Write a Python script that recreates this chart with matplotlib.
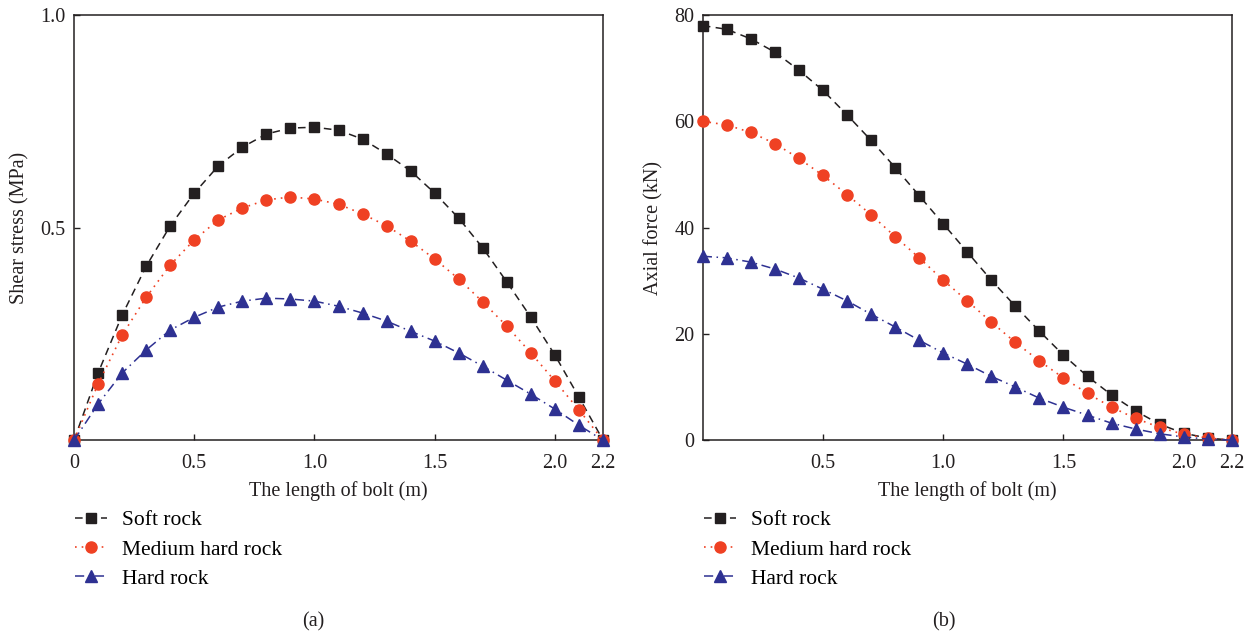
import matplotlib
matplotlib.use("Agg")
import matplotlib.pyplot as plt
import numpy as np

plt.rcParams['font.family'] = ['Liberation Serif', 'DejaVu Serif']

x = [round(0.1 * i, 1) for i in range(23)]

shear_soft = [0, 0.158, 0.294, 0.409, 0.504, 0.581, 0.645, 0.689, 0.720, 0.734, 0.736, 0.729,
              0.708, 0.673, 0.633, 0.581, 0.522, 0.452, 0.372, 0.289, 0.200, 0.101, 0]
shear_medium = [0, 0.132, 0.247, 0.336, 0.412, 0.471, 0.518, 0.546, 0.565, 0.572, 0.567, 0.555,
                0.532, 0.504, 0.468, 0.426, 0.379, 0.325, 0.268, 0.205, 0.139, 0.071, 0]
shear_hard = [0, 0.085, 0.158, 0.212, 0.259, 0.289, 0.313, 0.327, 0.334, 0.332, 0.327, 0.315,
              0.299, 0.280, 0.256, 0.233, 0.205, 0.174, 0.141, 0.108, 0.073, 0.035, 0]

axial_soft = [78.0, 77.3, 75.5, 73.0, 69.6, 65.8, 61.2, 56.4, 51.3, 46.0, 40.7, 35.4,
              30.1, 25.2, 20.5, 16.0, 12.0, 8.5, 5.5, 3.0, 1.3, 0.4, 0]
axial_medium = [60.0, 59.3, 57.9, 55.8, 53.0, 49.8, 46.2, 42.4, 38.3, 34.3, 30.1, 26.2,
                22.2, 18.4, 14.9, 11.7, 8.8, 6.2, 4.1, 2.4, 1.1, 0.4, 0]
axial_hard = [34.6, 34.3, 33.5, 32.2, 30.5, 28.4, 26.2, 23.7, 21.3, 18.8, 16.4, 14.3,
              12.0, 10.0, 7.9, 6.2, 4.7, 3.2, 2.1, 1.2, 0.6, 0.2, 0]

labels = ["Soft rock", "Medium hard rock", "Hard rock"]
left_xticks = [0, 0.5, 1.0, 1.5, 2.0, 2.2]
left_xticklabels = ["0", "0.5", "1.0", "1.5", "2.0", "2.2"]
left_yticks = [0.5, 1.0]
left_yticklabels = ["0.5", "1.0"]
right_xticks = [0.5, 1.0, 1.5, 2.0, 2.2]
right_xticklabels = ["0.5", "1.0", "1.5", "2.0", "2.2"]
right_yticks = [0, 20, 40, 60, 80]
right_yticklabels = ["0", "20", "40", "60", "80"]

c_black = "#231f20"
c_red = "#ef4123"
c_blue = "#2e3192"

styles = [
    dict(color=c_black, linestyle=(0, (5, 3.5)), marker='s', markersize=7, lw=1.1),
    dict(color=c_red, linestyle=(0, (1, 3)), marker='o', markersize=8, lw=1.2),
    dict(color=c_blue, linestyle=(0, (6, 3, 1, 3)), marker='^', markersize=8.5, lw=1.1),
]

fig = plt.figure(figsize=(12.55, 6.37), dpi=100)
ax1 = fig.add_axes([0.059, 0.309, 0.4215, 0.6675])
ax2 = fig.add_axes([0.560, 0.309, 0.4215, 0.6675])

for ax, series in [(ax1, [shear_soft, shear_medium, shear_hard]),
                   (ax2, [axial_soft, axial_medium, axial_hard])]:
    handles = []
    for ys, st, lab in zip(series, styles, labels):
        h, = ax.plot(x, ys, label=lab, clip_on=False, zorder=3, **st)
        handles.append(h)
    for s in ax.spines.values():
        s.set_linewidth(1.1)
        s.set_color("#231f20")
    ax.tick_params(direction='in', length=4, width=1, labelsize=14.5, colors="#231f20", pad=6)
    ax.tick_params(axis='x', pad=10)
    ax.set_xlabel("The length of bolt (m)", fontsize=14.5, color="#231f20", labelpad=6)
    ax.legend(handles=handles, loc='upper left', bbox_to_anchor=(0.002, -0.165), frameon=False,
              fontsize=15.5, handlelength=1.5, labelspacing=0.42, handletextpad=0.7,
              borderaxespad=0, borderpad=0)

ax1.set_xlim(0, 2.2)
ax1.set_ylim(0, 1.0)
ax1.set_xticks(left_xticks)
ax1.set_xticklabels(left_xticklabels)
ax1.set_yticks(left_yticks)
ax1.set_yticklabels(left_yticklabels)
ax1.set_ylabel("Shear stress (MPa)", fontsize=14.5, color="#231f20", labelpad=8)

ax2.set_xlim(0, 2.2)
ax2.set_ylim(0, 80)
ax2.set_xticks(right_xticks)
ax2.set_xticklabels(right_xticklabels)
ax2.set_yticks(right_yticks)
ax2.set_yticklabels(right_yticklabels)
ax2.set_ylabel("Axial force (kN)", fontsize=14.5, color="#231f20", labelpad=8)

fig.text(313 / 1255, 1 - 622 / 637, "(a)", ha='center', va='center', fontsize=14.5, color="#231f20")
fig.text(944 / 1255, 1 - 622 / 637, "(b)", ha='center', va='center', fontsize=14.5, color="#231f20")

fig.savefig("out.png", dpi=100)
